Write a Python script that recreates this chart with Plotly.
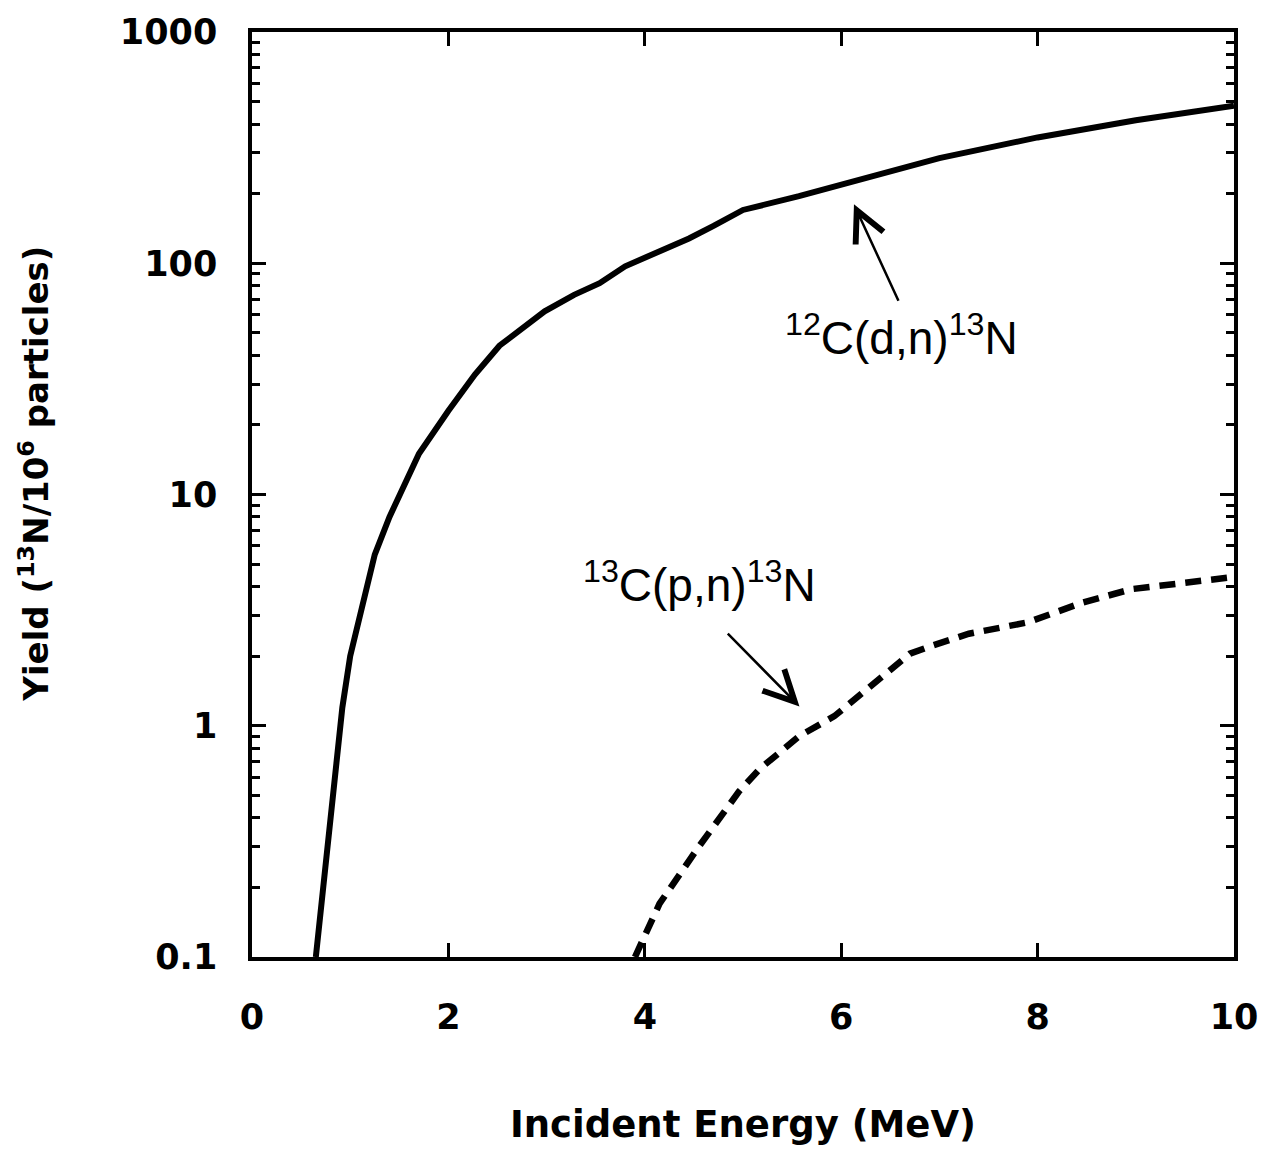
import plotly.graph_objects as go

# 12C(d,n)13N yield (solid)
e_dn = [0.65, 0.92, 1.0, 1.25, 1.4, 1.7, 2.0, 2.27, 2.52, 2.98, 3.28, 3.54, 3.8, 4.1, 4.45, 4.7, 5.0, 5.57, 6.03, 7.0, 8.0, 9.0, 10.0]
y_dn = [0.1, 1.2, 2.0, 5.5, 8.0, 15, 23, 33, 44, 62, 73, 82, 97, 110, 128, 145, 170, 195, 220, 285, 350, 415, 480]

# 13C(p,n)13N yield (dashed)
e_pn = [3.9, 4.15, 4.55, 4.96, 5.17, 5.57, 5.93, 6.39, 6.7, 6.9, 7.3, 7.9, 8.45, 8.96, 10.0]
y_pn = [0.1, 0.17, 0.3, 0.52, 0.65, 0.9, 1.1, 1.6, 2.05, 2.2, 2.5, 2.8, 3.4, 3.9, 4.4]

y_tickvals = [0.1, 1, 10, 100, 1000]
y_ticktext = ["0.1", "1", "10", "100", "1000"]
x_tickvals = [0, 2, 4, 6, 8, 10]
y_minor = [m * 10 ** k for k in range(-1, 3) for m in range(2, 10)]

FONT = "DejaVu Sans, Liberation Sans, sans-serif"
LFONT = "Liberation Sans, Arial, sans-serif"

fig = go.Figure()
fig.add_trace(go.Scatter(x=e_dn, y=y_dn, mode="lines",
                         line=dict(color="black", width=6), showlegend=False))
fig.add_trace(go.Scatter(x=e_pn, y=y_pn, mode="lines",
                         line=dict(color="black", width=6.5, dash="16px,10px"), showlegend=False))

# arrows and labels
fig.add_annotation(x=6.13, y=2.255, ax=6.59, ay=1.831, xref="x", yref="y", axref="x", ayref="y",
                   showarrow=True, arrowhead=5, arrowsize=2.4, arrowwidth=2.5, arrowcolor="black", text="")
fig.add_annotation(x=5.575, y=0.0835, ax=4.83, ay=0.405, xref="x", yref="y", axref="x", ayref="y",
                   showarrow=True, arrowhead=5, arrowsize=2.4, arrowwidth=2.5, arrowcolor="black", text="")
fig.add_annotation(x=6.61, y=1.69, xref="x", yref="y", showarrow=False,
                   text="<sup>12</sup>C(d,n)<sup>13</sup>N", font=dict(family=LFONT, size=46, color="black"))
fig.add_annotation(x=4.56, y=0.62, xref="x", yref="y", showarrow=False,
                   text="<sup>13</sup>C(p,n)<sup>13</sup>N", font=dict(family=LFONT, size=46, color="black"))

# y-axis title (placed as rotated text, as in the reference)
fig.add_annotation(x=-0.246, y=0.523, xref="paper", yref="paper", showarrow=False, textangle=-90,
                   text="<b>Yield (<sup>13</sup>N/10<sup>6</sup> particles)</b>",
                   font=dict(family=FONT, size=34, color="black"))

fig.update_layout(
    width=1270, height=1151,
    margin=dict(l=252, r=35, t=24, b=193),
    plot_bgcolor="white", paper_bgcolor="white",
    font=dict(family=FONT, color="black"),
)
fig.update_xaxes(
    range=[0, 10], tickvals=x_tickvals, ticktext=[f"<b>{v}</b>" for v in x_tickvals],
    ticks="inside", ticklen=14, tickwidth=2.5, tickcolor="black",
    showline=True, linewidth=3.5, linecolor="black", mirror="ticks",
    showgrid=False, zeroline=False,
    tickfont=dict(family=FONT, size=35), ticklabelstandoff=26,
    title=dict(text="<b>Incident Energy (MeV)</b>", font=dict(family=FONT, size=37), standoff=76),
)
fig.update_yaxes(
    type="log", range=[-1, 3], tickvals=y_tickvals, ticktext=[f"<b>{t}</b>" for t in y_ticktext],
    ticks="inside", ticklen=14, tickwidth=2.5, tickcolor="black",
    minor=dict(tickvals=y_minor, ticks="inside", ticklen=8, tickwidth=2.5, tickcolor="black"),
    showline=True, linewidth=3.5, linecolor="black", mirror="ticks",
    showgrid=False, zeroline=False,
    tickfont=dict(family=FONT, size=35), ticklabelstandoff=24,
)

fig.write_html("out.html")
